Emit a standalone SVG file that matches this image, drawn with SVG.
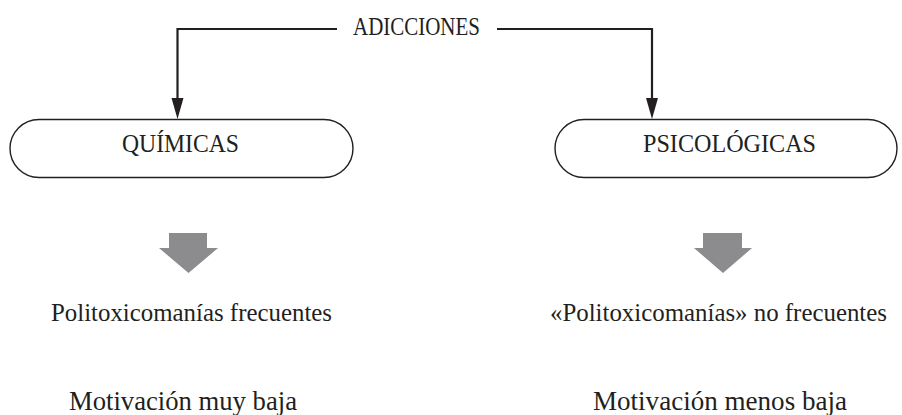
<svg xmlns="http://www.w3.org/2000/svg" width="902" height="415" viewBox="0 0 902 415">
<defs>
<style>
text{font-family:"Liberation Serif","Times New Roman",serif;font-size:25px;fill:#231f20;text-anchor:middle}
.lg{font-size:27px}
.box{fill:#fff;stroke:#231f20;stroke-width:1.4}
.conn{fill:none;stroke:#231f20;stroke-width:2.2}
.head{fill:#231f20}
.big{fill:#8c8c8f}
</style>
</defs>
<rect width="902" height="415" fill="#fff"/>
<g id="connectors">
<path class="conn" d="M337,29 H177.5 V100"/>
<path class="head" d="M171.5,98 L183.5,98 L177.5,119 Z"/>
<path class="conn" d="M497,29 H652 V100"/>
<path class="head" d="M646,98 L658,98 L652,119 Z"/>
</g>
<g id="adicciones">
<text x="416.5" y="35" textLength="127" lengthAdjust="spacingAndGlyphs">ADICCIONES</text>
</g>
<g id="quimicas">
<rect class="box" x="10" y="119.5" width="343" height="58" rx="29"/>
<text x="180.5" y="152" textLength="117" lengthAdjust="spacingAndGlyphs">QUÍMICAS</text>
</g>
<g id="psicologicas">
<rect class="box" x="555" y="119.5" width="342" height="58" rx="29"/>
<text x="729.5" y="152" textLength="173" lengthAdjust="spacingAndGlyphs">PSICOLÓGICAS</text>
</g>
<g id="arrow-left">
<path class="big" d="M169,233 H207 V248 H218 L188.5,273 L159,248 H169 Z"/>
</g>
<g id="arrow-right">
<path class="big" d="M703,233 H742 V248 H752 L723,273 L694,248 H703 Z"/>
</g>
<g id="politox-left">
<text x="191.5" y="321" textLength="281" lengthAdjust="spacingAndGlyphs">Politoxicomanías frecuentes</text>
</g>
<g id="politox-right">
<text x="718.5" y="321" textLength="337" lengthAdjust="spacingAndGlyphs">«Politoxicomanías» no frecuentes</text>
</g>
<g id="motiv-left">
<text class="lg" x="183" y="410" textLength="228" lengthAdjust="spacingAndGlyphs">Motivación muy baja</text>
</g>
<g id="motiv-right">
<text class="lg" x="720" y="410" textLength="254" lengthAdjust="spacingAndGlyphs">Motivación menos baja</text>
</g>
</svg>
